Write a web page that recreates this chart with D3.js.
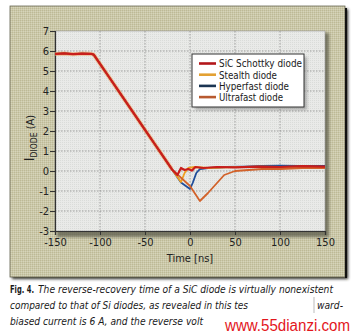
<!DOCTYPE html>
<html>
<head>
<meta charset="utf-8">
<script src="https://cdn.jsdelivr.net/npm/d3@7/dist/d3.min.js"></script>
<style>
  html, body { margin: 0; padding: 0; background: #fff; }
  svg { display: block; }
  .tick text { font-family: "Liberation Sans Narrow", "DejaVu Sans Condensed", sans-serif; font-size: 11px; fill: #222; }
</style>
</head>
<body>
<svg id="chart" width="359" height="336"></svg>
<script>
// Reverse-recovery current traces (A) against time (ns)
const xTicks = [-150, -100, -50, 0, 50, 100, 150];
const yTicks = [-3, -2, -1, 0, 1, 2, 3, 4, 5, 6, 7];
const seriesNames = ["SiC Schottky diode", "Stealth diode", "Hyperfast diode", "Ultrafast diode"];

// shared forward-current plateau and linear di/dt ramp
const rampTime  = [-150, -140, -130, -120, -110, -107, -100, -90, -80, -70, -60, -50, -40, -30, -20];
const rampValue = [5.85, 5.88, 5.84, 5.87, 5.86, 5.82, 5.36, 4.70, 4.04, 3.38, 2.72, 2.06, 1.40, 0.74, 0.08];

const sicTime   = [-14, -10, -6, -2, 2, 6, 15, 30, 50, 75, 100, 125, 150];
const sicValue  = [-0.2, 0.15, 0.05, 0.1, 0.02, 0.2, 0.15, 0.2, 0.18, 0.22, 0.2, 0.24, 0.22];

const stealthTime  = [-10, -6, -2, 5, 20, 40, 60, 80, 100, 125, 150];
const stealthValue = [-0.55, -0.1, 0.15, 0.2, 0.15, 0.18, 0.2, 0.22, 0.2, 0.22, 0.2];

const hyperTime  = [-10, 0, 3, 7, 11, 20, 40, 60, 80, 100, 120, 150];
const hyperValue = [-0.58, -0.9, -0.6, -0.1, 0.1, 0.15, 0.2, 0.22, 0.25, 0.27, 0.25, 0.25];

const ultraTime  = [0, 11, 20, 30, 38, 50, 65, 80, 100, 125, 150];
const ultraValue = [-0.75, -1.5, -1.1, -0.6, -0.2, 0.0, 0.05, 0.1, 0.1, 0.15, 0.15];

const lineColors   = ["#c81e1c", "#f0a020", "#1e4d9a", "#d2622a"];
const legendColors = ["#b3161a", "#e3a133", "#1b3553", "#b85a30"];
const legendWidths = [83, 58, 70, 64];

const svg = d3.select("#chart");
const defs = svg.append("defs");

// halftone-like textures
const pPanel = defs.append("pattern").attr("id", "panelTex").attr("width", 2).attr("height", 2)
  .attr("patternUnits", "userSpaceOnUse");
pPanel.append("rect").attr("width", 2).attr("height", 2).attr("fill", "#cbc8a9");
pPanel.append("rect").attr("width", 1).attr("height", 1).attr("fill", "#bdb996");
pPanel.append("rect").attr("x", 1).attr("y", 1).attr("width", 1).attr("height", 1).attr("fill", "#d6d4ba");

const pPlot = defs.append("pattern").attr("id", "plotTex").attr("width", 2).attr("height", 2)
  .attr("patternUnits", "userSpaceOnUse");
pPlot.append("rect").attr("width", 2).attr("height", 2).attr("fill", "#e9eae8");
pPlot.append("rect").attr("width", 1).attr("height", 1).attr("fill", "#dadcd9");

const blur = defs.append("filter").attr("id", "soft").attr("x", "-20%").attr("y", "-20%")
  .attr("width", "140%").attr("height", "140%");
blur.append("feGaussianBlur").attr("stdDeviation", 1.6);

const x = d3.scaleLinear().domain([-150, 150]).range([55, 325]);
const y = d3.scaleLinear().domain([-3, 7]).range([231, 31]);

// outer panel with shadow edge
svg.append("rect").attr("x", 12).attr("y", 9).attr("width", 336).attr("height", 270)
  .attr("fill", "#2a2a22").attr("filter", "url(#soft)");
svg.append("rect").attr("x", 10).attr("y", 6).attr("width", 335).attr("height", 271)
  .attr("fill", "url(#panelTex)").attr("stroke", "#6b6a58").attr("stroke-width", 0.8);
svg.append("line").attr("x1", 346).attr("x2", 346).attr("y1", 8).attr("y2", 278)
  .attr("stroke", "#111").attr("stroke-width", 2);

// plot area
svg.append("rect").attr("x", x(-150) + 2).attr("y", y(7) + 2).attr("width", x(150) - x(-150) + 2)
  .attr("height", y(-3) - y(7) + 4).attr("fill", "#5a5a4c").attr("opacity", 0.75).attr("filter", "url(#soft)");
svg.append("rect").attr("x", x(-150)).attr("y", y(7)).attr("width", x(150) - x(-150))
  .attr("height", y(-3) - y(7)).attr("fill", "url(#plotTex)").attr("stroke", "#9a9a9a").attr("stroke-width", 0.6);

// dotted grid
const grid = svg.append("g").attr("stroke", "#8e8e8e").attr("stroke-width", 0.8).attr("stroke-dasharray", "1.5,1.5");
grid.selectAll(".gx").data(xTicks.slice(1, -1)).join("line")
  .attr("x1", d => x(d)).attr("x2", d => x(d)).attr("y1", y(7)).attr("y2", y(-3));
grid.selectAll(".gy").data(yTicks.slice(1, -1)).join("line")
  .attr("x1", x(-150)).attr("x2", x(150)).attr("y1", d => y(d)).attr("y2", d => y(d));

// axes
const yAxis = svg.append("g").attr("transform", `translate(${x(-150)},0)`)
  .call(d3.axisLeft(y).tickValues(yTicks).tickSize(5).tickPadding(1).tickFormat(d3.format("d")));
const xAxis = svg.append("g").attr("transform", `translate(0,${y(-3)})`)
  .call(d3.axisBottom(x).tickValues(xTicks).tickSize(4).tickPadding(3).tickFormat(d3.format("d")));
[yAxis, xAxis].forEach(a => {
  a.select(".domain").attr("stroke", "#333").attr("stroke-width", 1.2);
  a.selectAll(".tick line").attr("stroke", "#333");
});
yAxis.selectAll(".tick text").text(d => d < 0 ? "-" + Math.abs(d) : d);
xAxis.selectAll(".tick text").text(d => d < 0 ? "-" + Math.abs(d) : d);

// axis titles
const font = '"Liberation Sans Narrow", "DejaVu Sans Condensed", sans-serif';
svg.append("text").attr("x", x(0)).attr("y", 262).attr("text-anchor", "middle")
  .attr("font-family", font).attr("font-size", 11).attr("fill", "#222").text("Time [ns]");
const yl = svg.append("text").attr("transform", "translate(34,138) rotate(-90)").attr("text-anchor", "middle")
  .attr("font-family", font).attr("font-size", 11).attr("fill", "#222");
yl.append("tspan").attr("font-size", 14).text("I");
yl.append("tspan").attr("font-size", 8.5).attr("dy", 3).text("DIODE");
yl.append("tspan").attr("dy", -3).text(" (A)");

// traces
const line = d3.line().x(d => x(d[0])).y(d => y(d[1]));
function trace(times, values) {
  const pts = rampTime.map((t, i) => [t, rampValue[i]]);
  return pts.concat(times.map((t, i) => [t, values[i]]));
}
const traces = [
  trace(sicTime, sicValue),
  trace(stealthTime, stealthValue),
  trace(hyperTime, hyperValue),
  trace(ultraTime, ultraValue)
];
const drawOrder = [2, 1, 3, 0];
const plot = svg.append("g").attr("fill", "none").attr("stroke-linejoin", "round");
// orange halo on the shared ramp
plot.append("path").datum(traces[1].slice(0, rampTime.length)).attr("d", line)
  .attr("stroke", "#f2a060").attr("stroke-width", 4).attr("opacity", 0.6);
drawOrder.forEach(i => {
  plot.append("path").datum(traces[i]).attr("d", line)
    .attr("stroke", lineColors[i]).attr("stroke-width", i === 0 ? 2.2 : 1.8);
});

// legend
const lg = svg.append("g");
lg.append("rect").attr("x", 195).attr("y", 57).attr("width", 112).attr("height", 53)
  .attr("fill", "#777").attr("opacity", 0.5).attr("filter", "url(#soft)");
lg.append("rect").attr("x", 192).attr("y", 54).attr("width", 112).attr("height", 53)
  .attr("fill", "#fff").attr("stroke", "#333").attr("stroke-width", 1);
seriesNames.forEach((name, i) => {
  const cy = 63.5 + i * 11.2;
  lg.append("line").attr("x1", 199).attr("x2", 216).attr("y1", cy).attr("y2", cy)
    .attr("stroke", legendColors[i]).attr("stroke-width", 2.6);
  lg.append("text").attr("x", 219).attr("y", cy + 3.8).attr("font-family", font)
    .attr("font-size", 10.5).attr("fill", "#1a1a1a")
    .attr("textLength", legendWidths[i]).attr("lengthAdjust", "spacingAndGlyphs").text(name);
});

// caption
const cap = svg.append("g").attr("font-family", font).attr("font-size", 11).attr("fill", "#1a1a1a");
const first = cap.append("text").attr("x", 10).attr("y", 293);
first.append("tspan").attr("font-weight", "bold").attr("font-size", 10)
  .attr("textLength", 24).attr("lengthAdjust", "spacingAndGlyphs").text("Fig. 4.");
first.append("tspan").attr("x", 38).attr("font-style", "italic")
  .attr("textLength", 295).attr("lengthAdjust", "spacingAndGlyphs")
  .text("The reverse-recovery time of a SiC diode is virtually nonexistent");
cap.append("text").attr("x", 10).attr("y", 309).attr("font-style", "italic")
  .attr("textLength", 238).attr("lengthAdjust", "spacingAndGlyphs")
  .text("compared to that of Si diodes, as revealed in this tes");
cap.append("text").attr("x", 317).attr("y", 309).attr("font-style", "italic")
  .attr("textLength", 26).attr("lengthAdjust", "spacingAndGlyphs").text("ward-");
cap.append("text").attr("x", 10).attr("y", 325).attr("font-style", "italic")
  .attr("textLength", 193).attr("lengthAdjust", "spacingAndGlyphs")
  .text("biased current is 6 A, and the reverse volt");
svg.append("line").attr("x1", 314).attr("x2", 314).attr("y1", 297).attr("y2", 313)
  .attr("stroke", "#bbb").attr("stroke-width", 1);
svg.append("text").attr("x", 225).attr("y", 331).attr("font-family", "Liberation Sans, Arial, sans-serif")
  .attr("font-size", 16).attr("fill", "#e3161c").attr("textLength", 125).attr("lengthAdjust", "spacingAndGlyphs")
  .text("www.55dianzi.com");
</script>
</body>
</html>
